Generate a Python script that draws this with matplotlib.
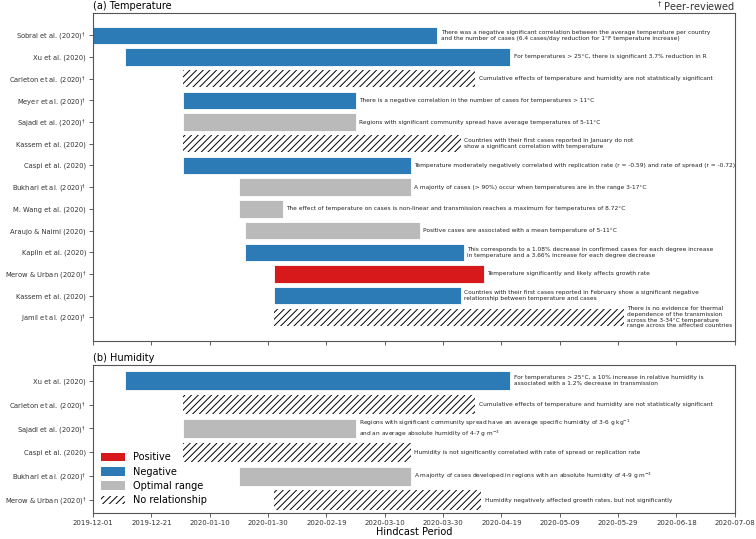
import numpy as np
import pandas as pd
import matplotlib
matplotlib.use("Agg")
import matplotlib.pyplot as plt
import matplotlib.dates as mdates
from matplotlib.patches import Patch

plt.rcParams['hatch.linewidth'] = 0.7

DAG = r"$^{\dagger}$"

# ---- temperature panel ----
temp_labels = [
    "Sobral et al. (2020)" + DAG, "Xu et al. (2020)", "Carleton et al. (2020)" + DAG,
    "Meyer et al. (2020)" + DAG, "Sajadi et al. (2020)" + DAG, "Kassem et al. (2020)",
    "Caspi et al. (2020)", "Bukhari et al. (2020)" + DAG, "M. Wang et al. (2020)",
    "Araujo & Naimi (2020)", "Kaplin et al. (2020)", "Merow & Urban (2020)" + DAG,
    "Kassem et al. (2020)", "Jamil et al. (2020)" + DAG,
]
temp_start = [
    "2019-12-01", "2019-12-12", "2020-01-01", "2020-01-01", "2020-01-01", "2020-01-01",
    "2020-01-01", "2020-01-20", "2020-01-20", "2020-01-22", "2020-01-22", "2020-02-01",
    "2020-02-01", "2020-02-01",
]
temp_end = [
    "2020-03-28", "2020-04-22", "2020-04-10", "2020-02-29", "2020-02-29", "2020-04-05",
    "2020-03-19", "2020-03-19", "2020-02-04", "2020-03-22", "2020-04-06", "2020-04-13",
    "2020-04-05", "2020-05-31",
]
temp_kind = [
    "neg", "neg", "none", "neg", "opt", "none", "neg", "opt", "opt", "opt", "neg", "pos",
    "neg", "none",
]
temp_notes = [
    "There was a negative significant correlation between the average temperature per country\n"
    "and the number of cases (6.4 cases/day reduction for 1°F temperature increase)",
    "For temperatures > 25°C, there is significant 3.7% reduction in R",
    "Cumulative effects of temperature and humidity are not statistically significant",
    "There is a negative correlation in the number of cases for temperatures > 11°C",
    "Regions with significant community spread have average temperatures of 5-11°C",
    "Countries with their first cases reported in January do not\n"
    "show a significant correlation with temperature",
    "Temperature moderately negatively correlated with replication rate (r = -0.59) and rate of spread (r = -0.72)",
    "A majority of cases (> 90%) occur when temperatures are in the range 3-17°C",
    "The effect of temperature on cases is non-linear and transmission reaches a maximum for temperatures of 8.72°C",
    "Positive cases are associated with a mean temperature of 5-11°C",
    "This corresponds to a 1.08% decrease in confirmed cases for each degree increase\n"
    "in temperature and a 3.66% increase for each degree decrease",
    "Temperature significantly and likely affects growth rate",
    "Countries with their first cases reported in February show a significant negative\n"
    "relationship between temperature and cases",
    "There is no evidence for thermal\ndependence of the transmission\n"
    "across the 3-34°C temperature\nrange across the affected countries",
]

# ---- humidity panel ----
hum_labels = [
    "Xu et al. (2020)", "Carleton et al. (2020)" + DAG, "Sajadi et al. (2020)" + DAG,
    "Caspi et al. (2020)", "Bukhari et al. (2020)" + DAG, "Merow & Urban (2020)" + DAG,
]
hum_start = ["2019-12-12", "2020-01-01", "2020-01-01", "2020-01-01", "2020-01-20", "2020-02-01"]
hum_end = ["2020-04-22", "2020-04-10", "2020-02-29", "2020-03-19", "2020-03-19", "2020-04-12"]
hum_kind = ["neg", "none", "opt", "none", "opt", "none"]
hum_notes = [
    "For temperatures > 25°C, a 10% increase in relative humidity is\n"
    "associated with a 1.2% decrease in transmission",
    "Cumulative effects of temperature and humidity are not statistically significant",
    "Regions with significant community spread have an average specific humidity of 3-6 g kg$^{-1}$\n"
    "and an average absolute humidity of 4-7 g m$^{-3}$",
    "Humidity is not significantly correlated with rate of spread or replication rate",
    "A majority of cases developed in regions with an absolute humidity of 4-9 g m$^{-3}$",
    "Humidity negatively affected growth rates, but not significantly",
]

colors = {"pos": "#d7191c", "neg": "#2c7bb6", "opt": "#bababa"}
kind_names = {"pos": "Positive", "neg": "Negative", "opt": "Optimal range", "none": "No relationship"}

x_min, x_max = "2019-12-01", "2020-07-08"
ticks = pd.date_range(x_min, x_max, freq="20D")
HATCH = "/////"


def draw_panel(ax, labels, starts, ends, kinds, notes, ylim):
    s = mdates.date2num(pd.to_datetime(starts))
    e = mdates.date2num(pd.to_datetime(ends))
    y = np.arange(len(labels))
    for yi, si, ei, k, note in zip(y, s, e, kinds, notes):
        if k == "none":
            ax.barh(yi, ei - si, left=si, height=0.8, color="white",
                    edgecolor="black", hatch=HATCH, linewidth=0)
        else:
            ax.barh(yi, ei - si, left=si, height=0.8, color=colors[k],
                    edgecolor="white", linewidth=0.6)
        ax.text(ei + 1.2, yi, note, fontsize=4.2, va="center", ha="left",
                color="#222222", linespacing=1.15)
    ax.set_yticks(y)
    ax.set_yticklabels(labels, fontsize=4.9, color="#333333")
    ax.set_ylim(*ylim)
    ax.set_xlim(mdates.date2num(pd.Timestamp(x_min)), mdates.date2num(pd.Timestamp(x_max)))
    ax.set_xticks(mdates.date2num(ticks))
    ax.tick_params(axis="both", length=3, width=0.6, color="#444444", pad=2)
    for sp in ax.spines.values():
        sp.set_color("#555555")
        sp.set_linewidth(0.8)


fig = plt.figure(figsize=(7.56, 5.39), dpi=100)
ax1 = fig.add_axes([0.123, 0.367, 0.849, 0.609])
ax2 = fig.add_axes([0.123, 0.048, 0.849, 0.275])

draw_panel(ax1, temp_labels, temp_start, temp_end, temp_kind, temp_notes, (14.1, -1.03))
draw_panel(ax2, hum_labels, hum_start, hum_end, hum_kind, hum_notes, (5.55, -0.66))

ax1.set_xticklabels([])
ax2.set_xticklabels([d.strftime("%Y-%m-%d") for d in ticks], fontsize=5, color="#333333")
ax2.set_xlabel("Hindcast Period", fontsize=7, labelpad=1)

ax1.set_title("(a) Temperature", loc="left", fontsize=7, pad=3)
ax2.set_title("(b) Humidity", loc="left", fontsize=7, pad=3)
fig.text(0.972, 0.988, r"$^{\dagger}$ Peer-reviewed", ha="right", va="center", fontsize=7,
         color="#333333")

handles = [Patch(facecolor=colors["pos"], label=kind_names["pos"]),
           Patch(facecolor=colors["neg"], label=kind_names["neg"]),
           Patch(facecolor=colors["opt"], label=kind_names["opt"]),
           Patch(facecolor="white", edgecolor="black", hatch=HATCH, linewidth=0,
                 label=kind_names["none"])]
ax2.legend(handles=handles, loc="lower left", fontsize=7, frameon=False,
           handlelength=2.5, handleheight=1.0, borderaxespad=0.4, labelspacing=0.45)

fig.savefig("out.png", dpi=100)
